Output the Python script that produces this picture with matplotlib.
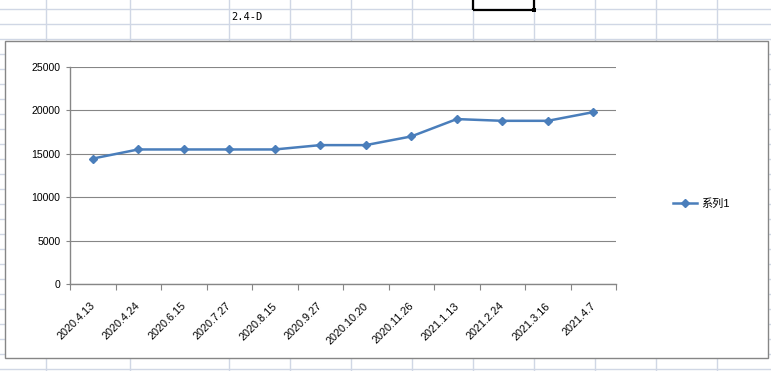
import matplotlib.pyplot as plt
from matplotlib.patches import Rectangle
from matplotlib.lines import Line2D
from matplotlib.transforms import ScaledTranslation

plt.rcParams['font.family'] = ['Liberation Sans', 'Noto Sans CJK SC', 'DejaVu Sans']

# 数据
dates = ['2020.4.13', '2020.4.24', '2020.6.15', '2020.7.27', '2020.8.15', '2020.9.27',
         '2020.10.20', '2020.11.26', '2021.1.13', '2021.2.24', '2021.3.16', '2021.4.7']
values = [14450, 15500, 15500, 15500, 15500, 16000, 16000, 17000, 19000, 18800, 18800, 19800]
series_name = '系列1'
y_ticks = [0, 5000, 10000, 15000, 20000, 25000]

W, H = 771, 371
fig = plt.figure(figsize=(W / 100, H / 100), dpi=100)
fig.patch.set_facecolor('white')


def fx(px):
    return px / W


def fy(py):
    return 1 - py / H


# 表格网格线
grid_c = '#d0d7e5'
col_x = [46, 130, 229, 290, 351, 412, 473, 534, 595, 656, 717]
for x in col_x:
    fig.add_artist(Line2D([fx(x), fx(x)], [0, 1], color=grid_c, lw=1, zorder=-2))
y = 9.3
while y < H:
    fig.add_artist(Line2D([0, 1], [fy(y), fy(y)], color=grid_c, lw=1, zorder=-2))
    y += 15

# 单元格文字和选中框
fig.text(fx(231), fy(17), '2.4-D', family='DejaVu Sans Mono', fontsize=7.5,
         ha='left', va='center', zorder=-1)
fig.add_artist(Rectangle((fx(473), fy(10)), fx(534) - fx(473), fy(-5) - fy(10),
                         fill=False, ec='black', lw=1.6, zorder=-1))
fig.add_artist(Rectangle((fx(532), fy(12)), fx(4), fy(0) - fy(4),
                         fc='black', ec='black', lw=0, zorder=-1))

# 图表区
fig.add_artist(Rectangle((fx(5), fy(358)), fx(768) - fx(5), fy(41) - fy(358),
                         fc='white', ec='#868686', lw=1, zorder=-0.5))

# 绘图区
ax = fig.add_axes([fx(70), fy(284), fx(616) - fx(70), fy(67) - fy(284)])
x_pos = list(range(len(dates)))
ax.plot(x_pos, values, color='#4a7ebb', lw=1.8, marker='D', markersize=4.5,
        label=series_name, zorder=3)

ax.set_xlim(-0.5, len(dates) - 0.5)
ax.set_ylim(0, 25000)
ax.set_yticks(y_ticks)
ax.set_yticklabels([str(v) for v in y_ticks])
ax.yaxis.grid(True, color='#868686', lw=0.8)
ax.set_axisbelow(True)

ax.set_xticks([i - 0.5 for i in range(len(dates) + 1)])
ax.set_xticklabels([])
ax.set_xticks(x_pos, minor=True)
ax.set_xticklabels(dates, minor=True, rotation=45, ha='right', va='top', fontsize=7.8)
ax.tick_params(axis='x', which='minor', length=0, pad=12)
ax.tick_params(axis='x', which='major', direction='out', length=4, color='#868686')
ax.tick_params(axis='y', direction='out', length=3, color='#868686', labelsize=7.6, pad=4)

shift = ScaledTranslation(4 / 100, 0, fig.dpi_scale_trans)
for lbl in ax.get_xticklabels(minor=True):
    lbl.set_transform(lbl.get_transform() + shift)

for s in ['top', 'right']:
    ax.spines[s].set_visible(False)
for s in ['left', 'bottom']:
    ax.spines[s].set_color('#868686')
    ax.spines[s].set_linewidth(1)

leg = ax.legend(loc='center left', bbox_to_anchor=(fx(673), fy(204)),
                bbox_transform=fig.transFigure, frameon=False, fontsize=8,
                borderpad=0, borderaxespad=0, handlelength=2.2, handletextpad=0.3)

plt.savefig('out.png', dpi=100)
